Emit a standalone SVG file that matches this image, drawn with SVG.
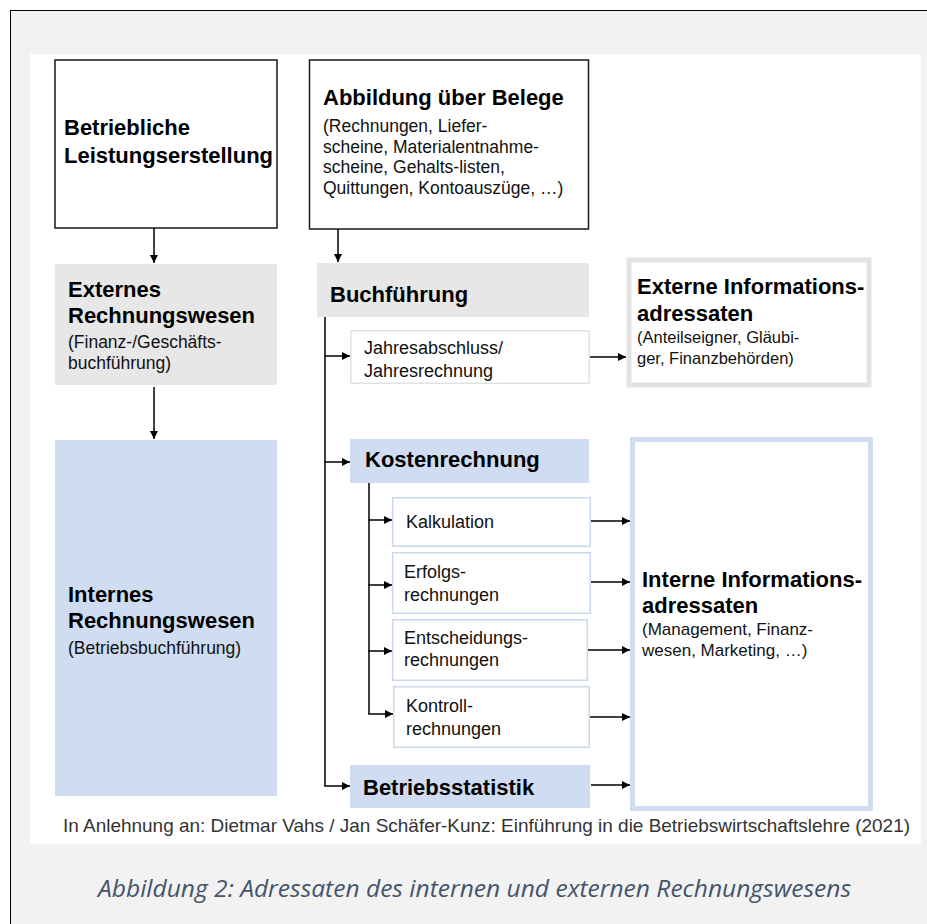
<svg xmlns="http://www.w3.org/2000/svg" width="927" height="924" viewBox="0 0 927 924">
<style>
.b{font-family:"Liberation Sans",Arial,Helvetica,sans-serif;font-weight:bold;font-size:22px;fill:#000}
.r{font-family:"Liberation Sans",Arial,Helvetica,sans-serif;font-size:17.5px;fill:#111}
.s{font-family:"Liberation Sans",Arial,Helvetica,sans-serif;font-size:18px;fill:#111}
.blk{fill:#fff;stroke:#1a1a1a;stroke-width:1.5}
.gry{fill:#e7e7e7}
.blu{fill:#cfdcf1}
.sub{fill:#fff;stroke:#cbd8ef;stroke-width:1.5}
.con line,.con polyline{stroke:#000;stroke-width:1.5;fill:none}
</style>
<defs>
<marker id="ah" viewBox="0 0 10 10" refX="10" refY="5" markerWidth="8" markerHeight="8" markerUnits="userSpaceOnUse" orient="auto">
<path d="M0,0 L10,5 L0,10 z" fill="#000"/>
</marker>
</defs>
<rect x="0" y="0" width="927" height="924" fill="#fff"/>
<rect x="10.5" y="10.5" width="930" height="930" fill="#f2f2f2" stroke="#000" stroke-width="1"/>
<rect x="30" y="54" width="891" height="790" fill="#fff"/>

<g id="n-leistung">
<rect class="blk" x="55" y="60" width="222" height="168"/>
<text class="b" x="64" y="135">Betriebliche</text>
<text class="b" x="64" y="163">Leistungserstellung</text>
</g>
<g id="n-belege">
<rect class="blk" x="309.5" y="60" width="279" height="169"/>
<text class="b" x="323" y="105">Abbildung über Belege</text>
<text class="r" x="323" y="132">(Rechnungen, Liefer-</text>
<text class="r" x="323" y="152.5">scheine, Materialentnahme-</text>
<text class="r" x="323" y="173">scheine, Gehalts-listen,</text>
<text class="r" x="323" y="193.5">Quittungen, Kontoauszüge, …)</text>
</g>
<g id="n-extern">
<rect class="gry" x="55" y="264" width="222" height="121"/>
<text class="b" x="68" y="297">Externes</text>
<text class="b" x="68" y="323">Rechnungswesen</text>
<text class="r" x="68" y="347.5">(Finanz-/Geschäfts-</text>
<text class="r" x="68" y="368.5">buchführung)</text>
</g>
<g id="n-intern">
<rect class="blu" x="55" y="440" width="222" height="356"/>
<text class="b" x="68" y="602">Internes</text>
<text class="b" x="68" y="628">Rechnungswesen</text>
<text class="r" x="68" y="654">(Betriebsbuchführung)</text>
</g>
<g id="n-buchfuehrung">
<rect class="gry" x="317" y="263" width="272" height="54"/>
<text class="b" x="330" y="302">Buchführung</text>
</g>
<g id="n-jahresabschluss">
<rect x="350.75" y="330.75" width="238.5" height="52.5" fill="#fff" stroke="#e2e2e2" stroke-width="1.5"/>
<text class="s" x="364" y="354">Jahresabschluss/</text>
<text class="s" x="364" y="377">Jahresrechnung</text>
</g>
<g id="n-ext-info">
<rect x="629" y="260" width="240" height="125" fill="#fff" stroke="#e3e3e3" stroke-width="5"/>
<text class="b" x="637" y="294">Externe Informations-</text>
<text class="b" x="637" y="321">adressaten</text>
<text class="r" x="637" y="343" style="font-size:16.5px">(Anteilseigner, Gläubi-</text>
<text class="r" x="637" y="364" style="font-size:16.5px">ger, Finanzbehörden)</text>
</g>
<g id="n-kosten">
<rect class="blu" x="350" y="439" width="239" height="44"/>
<text class="b" x="365" y="467">Kostenrechnung</text>
</g>
<g id="n-kalkulation">
<rect class="sub" x="392.75" y="497.75" width="197.5" height="48.5"/>
<text class="s" x="406" y="528">Kalkulation</text>
</g>
<g id="n-erfolg">
<rect class="sub" x="392.75" y="552.75" width="197.5" height="60.5"/>
<text class="s" x="404" y="578">Erfolgs-</text>
<text class="s" x="404" y="600.5">rechnungen</text>
</g>
<g id="n-entscheidung">
<rect class="sub" x="392.75" y="619.75" width="194.5" height="60.5"/>
<text class="s" x="404" y="643.5">Entscheidungs-</text>
<text class="s" x="404" y="666">rechnungen</text>
</g>
<g id="n-kontroll">
<rect class="sub" x="393.75" y="686.75" width="195.5" height="60.5"/>
<text class="s" x="406" y="712">Kontroll-</text>
<text class="s" x="406" y="734.5">rechnungen</text>
</g>
<g id="n-statistik">
<rect class="blu" x="350" y="765" width="240" height="43"/>
<text class="b" x="363" y="795">Betriebsstatistik</text>
</g>
<g id="n-int-info">
<rect x="632.5" y="439.5" width="238" height="369" fill="#fff" stroke="#d0dcf1" stroke-width="5"/>
<text class="b" x="642" y="587">Interne Informations-</text>
<text class="b" x="642" y="613">adressaten</text>
<text class="r" x="642" y="635" style="font-size:17px">(Management, Finanz-</text>
<text class="r" x="642" y="656" style="font-size:17px">wesen, Marketing, …)</text>
</g>

<g id="connectors" class="con">
<line x1="154" y1="228" x2="154" y2="263" marker-end="url(#ah)"/>
<line x1="154" y1="387" x2="154" y2="439" marker-end="url(#ah)"/>
<line x1="338" y1="229" x2="338" y2="262" marker-end="url(#ah)"/>
<line x1="325" y1="317" x2="325" y2="786"/>
<line x1="324.25" y1="356" x2="350" y2="356" marker-end="url(#ah)"/>
<line x1="324.25" y1="462" x2="350" y2="462" marker-end="url(#ah)"/>
<line x1="324.25" y1="786" x2="350" y2="786" marker-end="url(#ah)"/>
<line x1="369" y1="483" x2="369" y2="714"/>
<line x1="368.25" y1="520" x2="392" y2="520" marker-end="url(#ah)"/>
<line x1="368.25" y1="585" x2="392" y2="585" marker-end="url(#ah)"/>
<line x1="368.25" y1="651" x2="392" y2="651" marker-end="url(#ah)"/>
<line x1="368.25" y1="714" x2="393" y2="714" marker-end="url(#ah)"/>
<line x1="590" y1="357" x2="626" y2="357" marker-end="url(#ah)"/>
<line x1="591" y1="521" x2="630" y2="521" marker-end="url(#ah)"/>
<line x1="591" y1="582" x2="630" y2="582" marker-end="url(#ah)"/>
<line x1="588" y1="650" x2="630" y2="650" marker-end="url(#ah)"/>
<line x1="590" y1="717" x2="630" y2="717" marker-end="url(#ah)"/>
<line x1="591" y1="785" x2="630" y2="785" marker-end="url(#ah)"/>
</g>

<text x="63" y="832" textLength="847" lengthAdjust="spacingAndGlyphs" style="font-family:'Liberation Sans',Arial,sans-serif;font-size:18.5px;fill:#333">In Anlehnung an: Dietmar Vahs / Jan Schäfer-Kunz: Einführung in die Betriebswirtschaftslehre (2021)</text>
<text x="98" y="897" textLength="753" lengthAdjust="spacingAndGlyphs" style="font-family:'Open Sans','Noto Sans',sans-serif;font-style:italic;font-size:23.5px;fill:#44546a">Abbildung 2: Adressaten des internen und externen Rechnungswesens</text>
</svg>
